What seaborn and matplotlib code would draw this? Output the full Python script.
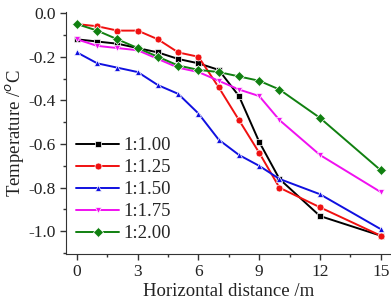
import numpy as np
import pandas as pd
import seaborn as sns
import matplotlib
matplotlib.use("Agg")
import matplotlib.pyplot as plt
from matplotlib.ticker import MultipleLocator

distance = [0, 1, 2, 3, 4, 5, 6, 7, 8, 9, 10, 12, 15]
ratios = ["1:1.00", "1:1.25", "1:1.50", "1:1.75", "1:2.00"]
t_100 = [-0.12, -0.13, -0.14, -0.16, -0.18, -0.21, -0.23, -0.26, -0.38, -0.59, -0.76, -0.93, -1.02]
t_125 = [-0.05, -0.06, -0.08, -0.08, -0.12, -0.18, -0.20, -0.34, -0.49, -0.64, -0.80, -0.89, -1.02]
t_150 = [-0.18, -0.23, -0.25, -0.27, -0.33, -0.37, -0.46, -0.58, -0.65, -0.70, -0.76, -0.83, -0.99]
t_175 = [-0.12, -0.15, -0.16, -0.17, -0.21, -0.25, -0.27, -0.31, -0.35, -0.38, -0.49, -0.65, -0.82]
t_200 = [-0.05, -0.08, -0.12, -0.16, -0.20, -0.24, -0.26, -0.27, -0.29, -0.31, -0.35, -0.48, -0.72]
colors = ["#000000", "#f01010", "#1010e0", "#f010f0", "#108010"]
markers = ["s", "o", "^", "v", "D"]

df = pd.DataFrame({
    "x": distance * 5,
    "t": t_100 + t_125 + t_150 + t_175 + t_200,
    "ratio": [r for r in ratios for _ in distance],
})

sns.set_style("ticks")
plt.rcParams["font.family"] = ["Liberation Serif", "DejaVu Serif"]
plt.rcParams["axes.unicode_minus"] = False

fig = plt.figure(figsize=(3.91, 3.02), dpi=100)
ax = fig.add_axes([0.169, 0.159, 0.831, 0.801])

sns.lineplot(data=df, x="x", y="t", hue="ratio", style="ratio",
             palette=colors, markers=markers, dashes=False,
             markersize=5, markeredgewidth=0.5, linewidth=1.4, ax=ax)

ax.set_xlim(-0.54, 15.51)
ax.set_ylim(-1.104, 0.005)
ax.xaxis.set_major_locator(MultipleLocator(3))
ax.xaxis.set_minor_locator(MultipleLocator(1.5))
ax.yaxis.set_major_locator(MultipleLocator(0.2))
ax.yaxis.set_minor_locator(MultipleLocator(0.1))
ax.yaxis.set_major_formatter(matplotlib.ticker.FormatStrFormatter("%.1f"))
ax.tick_params(which="major", length=4, width=1, labelsize=12.5, colors="#333333", labelcolor="#222222")
ax.tick_params(which="minor", length=2, width=1, colors="#333333")
for s in ["top", "right"]:
    ax.spines[s].set_visible(False)
for s in ["left", "bottom"]:
    ax.spines[s].set_color("#333333")

ax.set_xlabel("Horizontal distance /m", fontsize=13.5, labelpad=2, color="#222222")
ax.set_ylabel("Temperature /$^o$C", fontsize=13.5, labelpad=1, color="#222222")

ax.legend(loc="lower left", bbox_to_anchor=(-0.01, -0.005), frameon=False,
          fontsize=13.5, handlelength=2.3, handletextpad=0.25, labelspacing=0.26,
          borderaxespad=0.3, title=None)

fig.savefig("out.png", dpi=100)
